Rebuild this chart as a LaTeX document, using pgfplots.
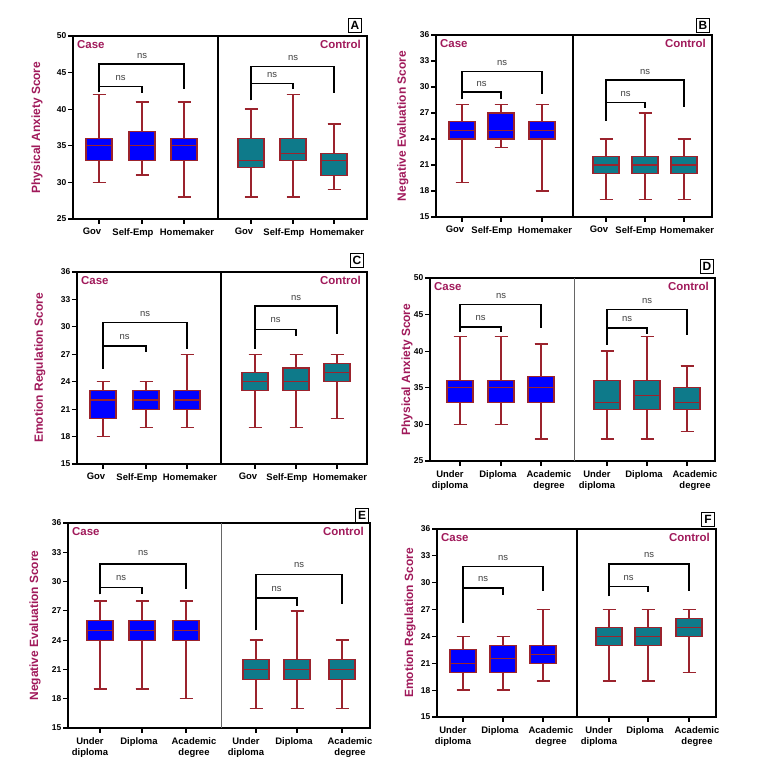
\documentclass[border=0pt]{standalone}
\usepackage{fontspec}
\setmainfont{Liberation Sans}
\usepackage{pgfplots}
\pgfplotsset{compat=1.18}
\usepgfplotslibrary{statistics}

\definecolor{edge}{RGB}{155,35,45}
\definecolor{lab}{RGB}{160,25,90}
\definecolor{caseblue}{RGB}{0,0,255}
\definecolor{ctrl}{RGB}{14,122,138}

\newcommand{\lsh}[2]{\hspace*{#1}#2}
\pgfplotsset{
  panel/.style={scale only axis, anchor=south west, xmin=0, clip=false,
    axis line style={line width=1.3bp}, tick style={black, line width=1.1bp},
    tick align=outside, xtick pos=bottom, ytick pos=left, major tick length=5bp,
    /pgf/number format/assume math mode=true,
    yticklabel style={font=\fontsize{8.5}{9}\selectfont\bfseries, inner sep=1.5bp},
    xticklabel style={font=\fontsize{9.5}{11}\selectfont\bfseries, align=center, inner sep=2bp, yshift=-2bp},
    ylabel style={font=\fontsize{12}{13}\selectfont\bfseries, text=lab, anchor=center}},
  occ/.style={xticklabels={\lsh{-14bp}{Gov},\lsh{-18bp}{Self-Emp},Homemaker\hspace*{-6bp},
    \lsh{-14bp}{Gov},\lsh{-18bp}{Self-Emp},Homemaker\hspace*{-6bp}}},
  edu/.style={xticklabels={{\lsh{-20bp}{Under}\\\lsh{-20bp}{diploma}},\lsh{-6bp}{Diploma},{Academic\hspace*{-16bp}\\degree\hspace*{-16bp}},
    {\lsh{-20bp}{Under}\\\lsh{-20bp}{diploma}},\lsh{-6bp}{Diploma},{Academic\hspace*{-16bp}\\degree\hspace*{-16bp}}}},
}

% position, lower whisker, q1, median, q3, upper whisker, fill
\newcommand{\bx}[7]{\addplot[draw=edge, line width=1.1bp, fill=#7, boxplot/draw direction=y,
  boxplot/every whisker/.style={line width=1.4bp},
  boxplot prepared={draw position=#1, lower whisker=#2, lower quartile=#3,
  median=#4, upper quartile=#5, upper whisker=#6, box extend=26, whisker extend=13}]
  coordinates {};}
% x1, x2, top, left foot, right foot, ns x, ns y
\newcommand{\brk}[7]{\draw[line width=1.5bp] (axis cs:#1,#4) |- (axis cs:#2,#3) -- (axis cs:#2,#5);
  \node[font=\fontsize{9.5}{10}\selectfont, text=black!75] at (axis cs:#6,#7) {ns};}
\newcommand{\grp}{\node[anchor=north west, xshift=4bp, yshift=-4bp, inner sep=0pt, text=lab,
    font=\fontsize{11.5}{12}\selectfont\bfseries] at (rel axis cs:0,1) {Case};
  \node[anchor=north east, xshift=-6bp, yshift=-4bp, inner sep=0pt, text=lab,
    font=\fontsize{11.5}{12}\selectfont\bfseries] at (rel axis cs:1,1) {Control};}
\newcommand{\plet}[2]{\node[draw, line width=0.8bp, inner sep=1.5bp, minimum width=13bp, minimum height=14bp,
  font=\fontsize{12}{12}\selectfont\bfseries] at #1 {#2};}

\begin{document}
\begin{tikzpicture}
\path[use as bounding box] (0,0) rectangle (759bp,772bp);

% A
\begin{axis}[panel, occ, at={(73bp,553bp)}, width=294bp, height=183bp,
  xmax=294, ymin=25, ymax=50, ytick={25,30,...,50}, xtick={26,69,111,178,220,261},
  ylabel={Physical Anxiety Score}, ylabel style={at={(axis description cs:-0.122,0.5)}}]
\bx{26}{30}{33}{35}{36}{42}{caseblue}
\bx{69}{31}{33}{35}{37}{41}{caseblue}
\bx{111}{28}{33}{35}{36}{41}{caseblue}
\bx{178}{28}{32}{33}{36}{40}{ctrl}
\bx{220}{28}{33}{34}{36}{42}{ctrl}
\bx{261}{29}{31}{33}{34}{38}{ctrl}
\draw[line width=1.2bp] (axis cs:145,25) -- (axis cs:145,50);
\brk{26}{111}{46.2}{42.3}{42.8}{69}{47.2}
\brk{26}{69}{43.1}{42.3}{42.2}{47.5}{44.3}
\brk{178}{261}{45.8}{41.2}{42.2}{220}{47.0}
\brk{178}{220}{43.5}{41.2}{42.7}{199}{44.7}
\grp
\end{axis}

% B
\begin{axis}[panel, occ, at={(436bp,555bp)}, width=276bp, height=182bp,
  xmax=276, ymin=15, ymax=36, ytick={15,18,...,36}, xtick={26,65,106,170,209,248},
  ylabel={Negative Evaluation Score}, ylabel style={at={(axis description cs:-0.12,0.5)}}]
\bx{26}{19}{24}{25}{26}{28}{caseblue}
\bx{65}{23}{24}{25}{27}{28}{caseblue}
\bx{106}{18}{24}{25}{26}{28}{caseblue}
\bx{170}{17}{20}{21}{22}{24}{ctrl}
\bx{209}{17}{20}{21}{22}{27}{ctrl}
\bx{248}{17}{20}{21}{22}{24}{ctrl}
\draw[line width=1.2bp] (axis cs:137,15) -- (axis cs:137,36);
\brk{26}{106}{31.8}{28.6}{29.2}{66}{32.8}
\brk{26}{65}{29.4}{28.6}{28.6}{45.5}{30.3}
\brk{170}{248}{30.8}{26.1}{27.7}{209}{31.7}
\brk{170}{209}{28.2}{26.1}{27.6}{189.5}{29.2}
\grp
\end{axis}

% C
\begin{axis}[panel, occ, at={(77bp,308bp)}, width=290bp, height=192bp,
  xmax=290, ymin=15, ymax=36, ytick={15,18,...,36}, xtick={26,69,110,178,219,260},
  ylabel={Emotion Regulation Score}, ylabel style={at={(axis description cs:-0.128,0.5)}}]
\bx{26}{18}{20}{22}{23}{24}{caseblue}
\bx{69}{19}{21}{22}{23}{24}{caseblue}
\bx{110}{19}{21}{22}{23}{27}{caseblue}
\bx{178}{19}{23}{24}{25}{27}{ctrl}
\bx{219}{19}{23}{24}{25.5}{27}{ctrl}
\bx{260}{20}{24}{25}{26}{27}{ctrl}
\draw[line width=1.2bp] (axis cs:144,15) -- (axis cs:144,36);
\brk{26}{110}{30.5}{25.4}{27.6}{68}{31.4}
\brk{26}{69}{27.9}{25.4}{27.2}{47.5}{28.9}
\brk{178}{260}{32.3}{27.6}{29.2}{219}{33.2}
\brk{178}{219}{29.7}{27.6}{29.0}{198.5}{30.7}
\grp
\end{axis}

% D
\begin{axis}[panel, edu, at={(430bp,311bp)}, width=285bp, height=183bp,
  xmax=285, ymin=25, ymax=50, ytick={25,30,...,50}, xtick={30,71,111,177,217,257},
  ylabel={Physical Anxiety Score}, ylabel style={at={(axis description cs:-0.081,0.5)}}]
\bx{30}{30}{33}{35}{36}{42}{caseblue}
\bx{71}{30}{33}{35}{36}{42}{caseblue}
\bx{111}{28}{33}{35}{36.5}{41}{caseblue}
\bx{177}{28}{32}{33}{36}{40}{ctrl}
\bx{217}{28}{32}{34}{36}{42}{ctrl}
\bx{257}{29}{32}{33}{35}{38}{ctrl}
\draw[line width=0.8bp, black!60] (axis cs:144,25) -- (axis cs:144,50);
\brk{30}{111}{46.4}{42.6}{43.2}{71}{47.5}
\brk{30}{71}{43.3}{42.6}{42.6}{50.5}{44.6}
\brk{177}{257}{45.7}{40.9}{42.2}{217}{46.9}
\brk{177}{217}{43.2}{40.9}{42.4}{197}{44.4}
\grp
\end{axis}

% E
\begin{axis}[panel, edu, at={(68bp,44bp)}, width=302bp, height=205bp,
  xmax=302, ymin=15, ymax=36, ytick={15,18,...,36}, xtick={32,74,118,188,229,274},
  ylabel={Negative Evaluation Score}, ylabel style={at={(axis description cs:-0.109,0.5)}}]
\bx{32}{19}{24}{25}{26}{28}{caseblue}
\bx{74}{19}{24}{25}{26}{28}{caseblue}
\bx{118}{18}{24}{25}{26}{28}{caseblue}
\bx{188}{17}{20}{21}{22}{24}{ctrl}
\bx{229}{17}{20}{21}{22}{27}{ctrl}
\bx{274}{17}{20}{21}{22}{24}{ctrl}
\draw[line width=0.8bp, black!60] (axis cs:153,15) -- (axis cs:153,36);
\brk{32}{118}{31.8}{28.7}{29.2}{75}{32.9}
\brk{32}{74}{29.4}{28.7}{28.7}{53}{30.4}
\brk{188}{274}{30.7}{25.0}{27.7}{231}{31.7}
\brk{188}{229}{28.3}{25.0}{27.5}{208.5}{29.2}
\grp
\end{axis}

% F
\begin{axis}[panel, edu, at={(437bp,55bp)}, width=279bp, height=188bp,
  xmax=279, ymin=15, ymax=36, ytick={15,18,...,36}, xtick={26,66,106,172,211,252},
  ylabel={Emotion Regulation Score}, ylabel style={at={(axis description cs:-0.097,0.5)}}]
\bx{26}{18}{20}{21}{22.5}{24}{caseblue}
\bx{66}{18}{20}{21.5}{23}{24}{caseblue}
\bx{106}{19}{21}{22}{23}{27}{caseblue}
\bx{172}{19}{23}{24}{25}{27}{ctrl}
\bx{211}{19}{23}{24}{25}{27}{ctrl}
\bx{252}{20}{24}{25}{26}{27}{ctrl}
\draw[line width=1.2bp] (axis cs:140,15) -- (axis cs:140,36);
\brk{26}{106}{31.8}{25.5}{29.1}{66}{32.8}
\brk{26}{66}{29.4}{25.5}{28.6}{46}{30.4}
\brk{172}{252}{32.1}{28.5}{29.1}{212}{33.1}
\brk{172}{211}{29.6}{28.5}{29.0}{191.5}{30.5}
\grp
\end{axis}

\plet{(355bp,747bp)}{A}
\plet{(703bp,747bp)}{B}
\plet{(357bp,512bp)}{C}
\plet{(707bp,506bp)}{D}
\plet{(362bp,257bp)}{E}
\plet{(708bp,253bp)}{F}
\end{tikzpicture}
\end{document}
